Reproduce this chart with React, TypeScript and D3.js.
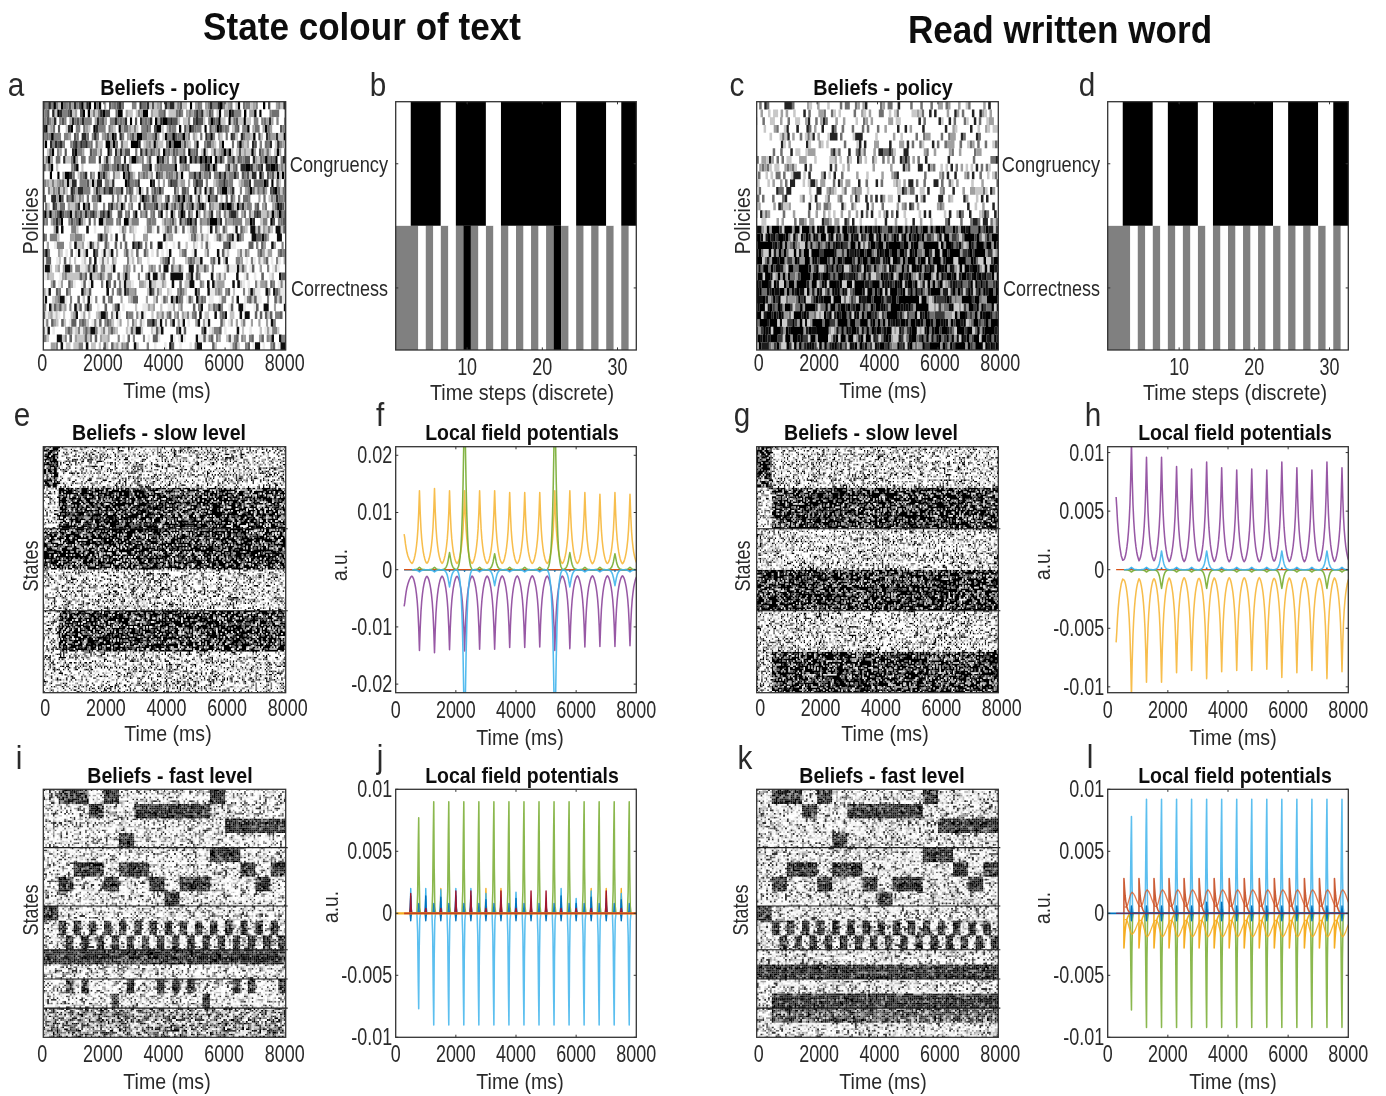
import React, { useMemo } from "react";
import * as d3 from "d3";

/* ---------- axes ---------- */
const MS_TICKS = [0, 2000, 4000, 6000, 8000];
const STEP_TICKS = [10, 20, 30];
const F_TICKS = [0.02, 0.01, 0, -0.01, -0.02];
const F_LABELS = ["0.02", "0.01", "0", "-0.01", "-0.02"];
const H_TICKS = [0.01, 0.005, 0, -0.005, -0.01];
const H_LABELS = ["0.01", "0.005", "0", "-0.005", "-0.01"];

/* ---------- panels b and d: state per discrete time step (w, k, g) ---------- */
const CONGRUENCY = "wwkkkkwwkkkkwwkkkkkkkkwwkkkkwwkk";
const CORRECTNESS_B = "gggwgwgwgkgwgwgwgwgwgkgwgwgwgwgw";
const CORRECTNESS_D = "gggwgwgwgwgwgwgwgwgwgwgwgwgwgwgw";

/* ---------- raster structure: [row, startMs, endMs] ---------- */
const SLOW_DARK_E = [[0, 0, 500], [1, 500, 8000], [2, 0, 8000], [4, 500, 8000]];
const SLOW_DARK_G = [[0, 0, 500], [1, 500, 8000], [3, 0, 8000], [5, 500, 8000]];
const SLOW_LINES = [2, 4];
const FAST_LINES = [4, 8, 11, 13, 15];
const FAST_COMMON = [
  [0, 500, 1500], [0, 2000, 2500], [0, 5500, 6000],
  [1, 1500, 2000], [1, 3000, 5500],
  [2, 6000, 8000],
  [3, 2500, 3000],
  [4, 5500, 6500],
  [5, 1000, 2000], [5, 2500, 3500], [5, 6500, 7000], [5, 7500, 8000],
  [6, 500, 1000], [6, 2000, 2500], [6, 3500, 4000], [6, 4500, 5500], [6, 7000, 7500],
  [7, 4000, 4500],
  [8, 0, 500],
];
const CHECK_ROW9 = [500, 1000, 1500, 2000, 2500, 3000, 3500, 4000, 4500, 5000, 5500, 6000, 6500, 7000, 7500];
const CHECK_ROW10 = [750, 1250, 1750, 2250, 2750, 3250, 3750, 4250, 4750, 5250, 5750, 6250, 6750, 7250, 7750];
const I_ROW13 = [750, 1250, 2750, 3750, 4250, 4750, 6250, 6750, 7750];
const I_ROW14 = [2250, 5250];
const FAST_DARK_I = [[11, 0, 8000]];
const FAST_DARK_K = [[12, 0, 8000], [14, 500, 8000]];
const FAST_MID_K = [[15, 500, 8000]];

/* The raster speckle cannot be read cell by cell at this resolution, so it is a
   hand-typed texture of digits, not values. Only the band
   structure above and the grey balance below follow the reference. */
const TEXTURE_A = [
  "73920485161739402857163094825716390482751",
  "28461930572846109375820461957302846197350",
  "95017362849150736284095173628491057362849",
  "41738205964173820596417382059641738205961",
  "60295817346029581734602958173460295817340",
  "38174629053817462905381746290538174629052",
  "82605193748260519374826051937482605193748",
  "17549326081754932608175493260817549326081",
  "59382061745938206174593820617459382061745",
  "04671852930467185293046718529304671852939",
  "26813794052681379405268137940526813794056",
];
const TEXTURE_B = [
  "9150426738195042673819504267381950427",
  "3728190465372819046537281904653728191",
  "6401975283640197528364019752836401974",
  "8263051794826305179482630517948263050",
  "1597382640159738264015973826401597386",
  "4036827915403682791540368279154036829",
  "7812549036781254903678125490367812543",
];

/* grey ramps, indexed by texture digit */
const RAMP_FAST_LIGHT = ["#303030", "#6a6a6a", "#a0a0a0", "#c4c4c4", "#dddddd", "#f0f0f0", "#ffffff", "#ffffff", "#ffffff", "#f5f5f5"];
const RAMP_FAST_DARK = ["#000000", "#000000", "#0a0a0a", "#141414", "#1e1e1e", "#262626", "#333333", "#4a4a4a", "#6a6a6a", "#999999"];
const RAMP_FAST_MID = ["#000000", "#1e1e1e", "#3c3c3c", "#606060", "#808080", "#a0a0a0", "#bcbcbc", "#d4d4d4", "#eeeeee", "#ffffff"];
const RAMP_FAST_KMID = ["#000000", "#141414", "#262626", "#383838", "#4a4a4a", "#5c5c5c", "#707070", "#8a8a8a", "#aaaaaa", "#d4d4d4"];
const RAMP_SLOW_LIGHT = ["#000000", "#2a2a2a", "#777777", "#b0b0b0", "#ffffff", "#ffffff", "#ffffff", "#ffffff", "#e0e0e0", "#ffffff"];
const RAMP_SLOW_DARK = ["#000000", "#000000", "#000000", "#000000", "#000000", "#000000", "#222222", "#666666", "#aaaaaa", "#f0f0f0"];
const RAMP_A_TOP = ["#000000", "#2a2a2a", "#555555", "#707070", "#808080", "#808080", "#a0a0a0", "#c4c4c4", "#ffffff", "#ffffff"];
const RAMP_A_BOTTOM = ["#111111", "#606060", "#808080", "#a0a0a0", "#c4c4c4", "#e8e8e8", "#ffffff", "#ffffff", "#ffffff", "#ffffff"];
const RAMP_C_TOP = ["#222222", "#707070", "#a0a0a0", "#c8c8c8", "#ffffff", "#ffffff", "#ffffff", "#ffffff", "#ffffff", "#ffffff"];
const RAMP_C_BOTTOM = ["#000000", "#000000", "#000000", "#000000", "#0a0a0a", "#1a1a1a", "#3a3a3a", "#707070", "#9a9a9a", "#cccccc"];
const ROW_SHIFTS = [0, 0.5, 0.25, 0.75, 0.1, 0.6, 0.35, 0.85];

/* ---------- local field potentials: peak times and amplitudes ---------- */
const PEAKS_790 = [790, 1290, 1790, 2290, 2790, 3290, 3790, 4290, 4790, 5290, 5790, 6290, 6790, 7290, 7790];
const PEAKS_765 = [765, 1265, 1765, 2265, 2765, 3265, 3765, 4265, 4765, 5265, 5765, 6265, 6765, 7265, 7765];
const PEAKS_500 = [500, 1000, 1500, 2000, 2500, 3000, 3500, 4000, 4500, 5000, 5500, 6000, 6500, 7000, 7500];
const PEAKS_540 = [540, 1040, 1540, 2040, 2540, 3040, 3540, 4040, 4540, 5040, 5540, 6040, 6540, 7040, 7540];
const PEAKS_810 = [810, 1310, 1820, 2330, 2820, 3330, 3820, 4320, 4820, 5320, 5820, 6310, 6810, 7310, 7810];

const BROAD_OFFS = [-250, -225, -200, -175, -150, -125, -100, -75, -50, -25, 0, 25, 50, 75, 100, 125, 150, 175, 200, 225];
const BROAD_SHAPE = [0.08, 0.09, 0.11, 0.14, 0.18, 0.23, 0.3, 0.39, 0.52, 0.72, 1, 0.72, 0.52, 0.39, 0.3, 0.23, 0.18, 0.14, 0.11, 0.09];
const NARROW_SHAPE = [0, 0.01, 0.02, 0.04, 0.07, 0.12, 0.2, 0.32, 0.5, 0.75, 1, 0.75, 0.5, 0.32, 0.2, 0.12, 0.07, 0.04, 0.02, 0.01];
const SPIKE_OFFS = [-60, -35, -15, 0, 15, 35, 60];
const SPIKE_SHAPE = [0, 0.2, 0.72, 1, 0.4, 0.06, 0];
const SMALL_OFFS = [-30, -15, 0, 15, 30];
const SMALL_SHAPE = [0, 0.3, 1, 0.3, 0];
const SAW_OFFS = [-1, 0, 20, 40, 60, 80, 100, 130, 160, 200];
const SAW_SHAPE = [0, 1, 0.72, 0.5, 0.35, 0.25, 0.17, 0.1, 0.05, 0];
const HUMP_OFFS = [-250, -200, -150, -100, -50, 0, 50, 100, 150, 200, 249];
const HUMP_SHAPE = [0.3, 0.3, 0.4, 0.65, 0.9, 1, 0.93, 0.8, 0.62, 0.45, 0.32];

const F_YELLOW_AMPS = [0.0138, 0.0142, 0.0138, 0.0138, 0.0138, 0.0138, 0.0135, 0.0135, 0.0135, 0.0138, 0.0138, 0.0135, 0.0132, 0.0135, 0.0132];
const F_PURPLE_AMPS = [-0.0141, -0.0145, -0.014, -0.0142, -0.0139, -0.0139, -0.0136, -0.0136, -0.0135, -0.0141, -0.0138, -0.0135, -0.0134, -0.0134, -0.0133];
const F_GREEN_AMPS = [0.0004, 0.0004, 0.003, 0.03, 0.0004, 0.0028, 0.0004, 0.0004, 0.0004, 0.03, 0.003, 0.0004, 0.0004, 0.0028, 0.0004];
const F_CYAN_AMPS = [-0.0004, -0.0004, -0.003, -0.03, -0.0004, -0.0028, -0.0004, -0.0004, -0.0004, -0.03, -0.003, -0.0004, -0.0004, -0.0028, -0.0004];
const F_HEAD = [[280, 0.0062], [300, 0.0056], [325, 0.0045], [350, 0.0037], [375, 0.003], [400, 0.0025], [450, 0.0018], [500, 0.0013]];
const F_HEAD_NEG = [[280, -0.0064], [300, -0.0058], [325, -0.0047], [350, -0.0038], [375, -0.0031], [400, -0.0026], [450, -0.0018], [500, -0.0013]];

const H_PURPLE_AMPS = [0.0108, 0.0096, 0.0096, 0.0088, 0.0086, 0.0092, 0.0087, 0.0085, 0.0086, 0.0085, 0.0092, 0.0087, 0.0085, 0.0092, 0.0087];
const H_YELLOW_AMPS = [-0.0108, -0.0096, -0.0096, -0.0088, -0.0086, -0.0093, -0.0087, -0.0086, -0.0086, -0.0085, -0.0092, -0.0088, -0.0086, -0.0093, -0.0087];
const H_CYAN_AMPS = [0.0002, 0.0002, 0.0016, 0.0002, 0.0002, 0.0016, 0.0002, 0.0002, 0.0002, 0.0002, 0.0016, 0.0002, 0.0002, 0.0016, 0.0002];
const H_GREEN_AMPS = [-0.0002, -0.0002, -0.0016, -0.0002, -0.0002, -0.0016, -0.0002, -0.0002, -0.0002, -0.0002, -0.0016, -0.0002, -0.0002, -0.0016, -0.0002];
const H_HEAD = [[280, 0.0062], [300, 0.0054], [325, 0.0042], [350, 0.0033], [375, 0.0026], [400, 0.002], [450, 0.0012], [500, 0.0008]];
const H_HEAD_NEG = [[280, -0.0062], [300, -0.0054], [325, -0.0042], [350, -0.0033], [375, -0.0026], [400, -0.002], [450, -0.0012], [500, -0.0008]];

const J_GREEN_AMPS = [0.0077, 0.009, 0.009, 0.009, 0.009, 0.009, 0.009, 0.009, 0.009, 0.009, 0.009, 0.009, 0.009, 0.009, 0.009];
const J_CYAN_AMPS = [-0.0077, -0.009, -0.009, -0.009, -0.009, -0.009, -0.009, -0.009, -0.009, -0.009, -0.009, -0.009, -0.009, -0.009, -0.009];
const J_SKY_AMPS = [0.002, 0.002, 0.0019, 0.002, 0.002, 0.0016, 0.0012, 0.0017, 0.0008, 0.0008, 0.002, 0.0012, 0.0018, 0.0012, 0.0016];
const J_BLUE_AMPS = [0.0014, 0.0014, 0.0013, 0.0014, 0.0014, 0.0011, 0.0008, 0.0012, 0.0006, 0.0006, 0.0014, 0.0008, 0.0013, 0.0008, 0.0011];
const J_YELLOW_AMPS = [0.0006, 0.0004, 0.002, 0.0004, 0.0006, 0.002, 0.002, 0.0006, 0.0006, 0.0006, 0.0004, 0.0006, 0.002, 0.002, 0.002];
const J_RED_AMPS = [0.0016, 0.0004, 0.0004, 0.0018, 0.0018, 0.0004, 0.0018, 0.0004, 0.0018, 0.0018, 0.0004, 0.0004, 0.0004, 0.0018, 0.0004];
const J_NEG_AMPS = [-0.0006, -0.0006, -0.0006, -0.0006, -0.0006, -0.0006, -0.0006, -0.0006, -0.0006, -0.0006, -0.0006, -0.0006, -0.0006, -0.0006, -0.0006];
const J_MINOR_AMPS = [0.0008, 0.0008, 0.0008, 0.0008, 0.0008, 0.0008, 0.0008, 0.0008, 0.0008, 0.0008, 0.0008, 0.0008, 0.0008, 0.0008, 0.0008];
const F_DOT_AMPS = [-0.0003, -0.0003, -0.0003, -0.0003, -0.0003, -0.0003, -0.0003, -0.0003, -0.0003, -0.0003, -0.0003, -0.0003, -0.0003, -0.0003, -0.0003];
const H_DOT_AMPS = [0.00016, 0.00016, 0.00016, 0.00016, 0.00016, 0.00016, 0.00016, 0.00016, 0.00016, 0.00016, 0.00016, 0.00016, 0.00016, 0.00016, 0.00016];

const L_CYAN_AMPS = [0.0078, 0.0092, 0.0092, 0.0092, 0.0092, 0.0092, 0.0092, 0.0092, 0.0092, 0.0092, 0.0092, 0.0092, 0.0092, 0.0092, 0.0092];
const L_GREEN_AMPS = [-0.0078, -0.0092, -0.0092, -0.0092, -0.0092, -0.0092, -0.0092, -0.0092, -0.0092, -0.0092, -0.0092, -0.0092, -0.0092, -0.0092, -0.0092];
const L_SAW_AMPS = [0.0028, 0.0028, 0.0028, 0.0028, 0.0028, 0.0028, 0.0028, 0.0028, 0.0028, 0.0028, 0.0028, 0.0028, 0.0028, 0.0028, 0.0028];
const L_SAW_NEG = [-0.0028, -0.0028, -0.0028, -0.0028, -0.0028, -0.0028, -0.0028, -0.0028, -0.0028, -0.0028, -0.0028, -0.0028, -0.0028, -0.0028, -0.0028];
const L_HUMP_AMPS = [0.0017, 0.0019, 0.0019, 0.0019, 0.0019, 0.0019, 0.0019, 0.0019, 0.0019, 0.0019, 0.0019, 0.0019, 0.0019, 0.0019, 0.0019];
const L_HUMP_NEG = [-0.0017, -0.0019, -0.0019, -0.0019, -0.0019, -0.0019, -0.0019, -0.0019, -0.0019, -0.0019, -0.0019, -0.0019, -0.0019, -0.0019, -0.0019];
const L_DARK_AMPS = [0.0006, 0.0006, 0.0006, 0.0006, 0.0006, 0.0009, 0.0009, 0.0006, 0.0006, 0.0006, 0.0006, 0.0006, 0.0006, 0.0006, 0.0006];

const ZERO_FROM_280 = [[280, 0], [8000, 0]];
const ZERO_FROM_0 = [[0, 0], [8000, 0]];

const BLUE = "#0072BD", ORANGE = "#D95319", YELLOW = "#F5AE22", PURPLE = "#7E2F8E", GREEN = "#77AC30", CYAN = "#3FB4EC", RED = "#A2142F";
const MAJOR = 1.55;

function pulses(peaks, amps, offs, shape) {
  return peaks.flatMap((p, i) => offs.map((o, j) => [p + o, amps[i] * shape[j]]));
}

const F_SERIES = [
  { c: BLUE, w: 1.6, o: 1, pts: ZERO_FROM_280 },
  { c: BLUE, w: 1.2, o: 0.9, pts: pulses(PEAKS_790, F_DOT_AMPS, SMALL_OFFS, SMALL_SHAPE) },
  { c: ORANGE, w: 1.3, o: 1, pts: ZERO_FROM_280 },
  { c: YELLOW, w: MAJOR, o: 0.8, pts: [...F_HEAD, ...pulses(PEAKS_790, F_YELLOW_AMPS, BROAD_OFFS, BROAD_SHAPE)] },
  { c: PURPLE, w: MAJOR, o: 0.8, pts: [...F_HEAD_NEG, ...pulses(PEAKS_790, F_PURPLE_AMPS, BROAD_OFFS, BROAD_SHAPE)] },
  { c: GREEN, w: MAJOR, o: 0.9, pts: pulses(PEAKS_790, F_GREEN_AMPS, BROAD_OFFS, NARROW_SHAPE) },
  { c: CYAN, w: MAJOR, o: 0.9, pts: pulses(PEAKS_790, F_CYAN_AMPS, BROAD_OFFS, NARROW_SHAPE) },
];
const H_SERIES = [
  { c: BLUE, w: 1.3, o: 0.9, pts: pulses(PEAKS_790, H_DOT_AMPS, SMALL_OFFS, SMALL_SHAPE) },
  { c: ORANGE, w: 1.3, o: 1, pts: ZERO_FROM_280 },
  { c: YELLOW, w: MAJOR, o: 0.8, pts: [...H_HEAD_NEG, ...pulses(PEAKS_790, H_YELLOW_AMPS, BROAD_OFFS, BROAD_SHAPE)] },
  { c: PURPLE, w: MAJOR, o: 0.8, pts: [...H_HEAD, ...pulses(PEAKS_790, H_PURPLE_AMPS, BROAD_OFFS, BROAD_SHAPE)] },
  { c: GREEN, w: MAJOR, o: 0.9, pts: pulses(PEAKS_790, H_GREEN_AMPS, BROAD_OFFS, NARROW_SHAPE) },
  { c: CYAN, w: MAJOR, o: 0.9, pts: pulses(PEAKS_790, H_CYAN_AMPS, BROAD_OFFS, NARROW_SHAPE) },
];
const J_SERIES = [
  { c: GREEN, w: MAJOR, o: 0.85, pts: pulses(PEAKS_765, J_GREEN_AMPS, SPIKE_OFFS, SPIKE_SHAPE) },
  { c: CYAN, w: MAJOR, o: 0.85, pts: pulses(PEAKS_765, J_CYAN_AMPS, SPIKE_OFFS, SPIKE_SHAPE) },
  { c: YELLOW, w: 1.4, o: 1, pts: pulses(PEAKS_500, J_YELLOW_AMPS, SMALL_OFFS, SMALL_SHAPE) },
  { c: CYAN, w: 1.4, o: 1, pts: pulses(PEAKS_500, J_SKY_AMPS, SMALL_OFFS, SMALL_SHAPE) },
  { c: BLUE, w: 1.4, o: 1, pts: pulses(PEAKS_500, J_NEG_AMPS, SMALL_OFFS, SMALL_SHAPE) },
  { c: BLUE, w: 1.4, o: 1, pts: pulses(PEAKS_500, J_BLUE_AMPS, SMALL_OFFS, SMALL_SHAPE) },
  { c: RED, w: 1.4, o: 1, pts: pulses(PEAKS_500, J_RED_AMPS, SMALL_OFFS, SMALL_SHAPE) },
  { c: BLUE, w: 1.2, o: 0.9, pts: pulses(PEAKS_765, J_MINOR_AMPS, SMALL_OFFS, SMALL_SHAPE) },
  { c: YELLOW, w: 2.2, o: 1, pts: ZERO_FROM_0 },
  { c: "#C8401F", w: 1.8, o: 1, pts: ZERO_FROM_280 },
];
const L_SERIES = [
  { c: CYAN, w: MAJOR, o: 0.85, pts: pulses(PEAKS_790, L_CYAN_AMPS, SPIKE_OFFS, SPIKE_SHAPE) },
  { c: GREEN, w: MAJOR, o: 0.85, pts: pulses(PEAKS_790, L_GREEN_AMPS, SPIKE_OFFS, SPIKE_SHAPE) },
  { c: YELLOW, w: 1.3, o: 0.9, pts: pulses(PEAKS_810, L_HUMP_NEG, HUMP_OFFS, HUMP_SHAPE) },
  { c: YELLOW, w: 1.6, o: 1, pts: pulses(PEAKS_540, L_SAW_NEG, SAW_OFFS, SAW_SHAPE) },
  { c: ORANGE, w: 1.3, o: 0.75, pts: pulses(PEAKS_810, L_HUMP_AMPS, HUMP_OFFS, HUMP_SHAPE) },
  { c: "#C8532A", w: 1.6, o: 0.95, pts: pulses(PEAKS_540, L_SAW_AMPS, SAW_OFFS, SAW_SHAPE) },
  { c: BLUE, w: 1.4, o: 1, pts: pulses(PEAKS_790, L_DARK_AMPS, SMALL_OFFS, SMALL_SHAPE) },
  { c: BLUE, w: 1.4, o: 1, pts: pulses(PEAKS_790, J_NEG_AMPS, SMALL_OFFS, SMALL_SHAPE) },
  { c: BLUE, w: 1.8, o: 1, pts: ZERO_FROM_0 },
  { c: RED, w: 1.1, o: 0.9, pts: ZERO_FROM_280 },
];

/* ---------- panel boxes ---------- */
const COL_L = [43.3, 395.7, 756.7, 1107.7];
const COL_W = [242.4, 240.6, 241.6, 240.6];
const ROW_T = [101.7, 446.7, 789.3];
const ROW_B = [350, 692.7, 1037.3];

const INK = "#333333";

/* ---------- helpers ---------- */
function T({ x, y, s, size = 22.5, anchor = "middle", weight = "normal", sx = 0.87, rot = 0, fill = "#2a2a2a" }) {
  return (
    <text
      transform={`translate(${x},${y}) rotate(${rot}) scale(${sx},1)`}
      fontFamily="'Liberation Sans', Arial, sans-serif"
      fontSize={size}
      fontWeight={weight}
      textAnchor={anchor}
      fill={fill}
    >
      {s}
    </text>
  );
}

function digit(r, c, off) {
  const rowA = r % TEXTURE_A.length;
  const rowB = (r * 3 + off) % TEXTURE_B.length;
  const a = TEXTURE_A[rowA];
  const b = TEXTURE_B[rowB];
  const jump = +b[(r + off) % b.length] * 11 + +a[(r * 2) % a.length] * 17;
  return (+a[(c + jump + r * r) % a.length] + +b[(c * 2 + jump + r * off) % b.length]) % 10;
}

function inSegs(segs, row, t) {
  return segs.some((s) => s[0] === row && t >= s[1] && t < s[2]);
}

function rasterPaths({ box, rows, cols, stateRows, off, rampFor, brick }) {
  const x = d3.scaleLinear().domain([0, cols]).range([box.x0, box.x1]);
  const y = d3.scaleLinear().domain([0, rows]).range([box.y0, box.y1]);
  const t = d3.scaleLinear().domain([0, cols]).range([0, 8000]);
  const byColour = new Map();
  const add = (colour, seg) => {
    if (!byColour.has(colour)) byColour.set(colour, []);
    byColour.get(colour).push(seg);
  };
  for (let r = 0; r < rows; r++) {
    const state = Math.floor(((r + 0.5) / rows) * stateRows);
    const shift = brick ? ROW_SHIFTS[r % ROW_SHIFTS.length] - 1 : 0;
    let runStart = -1;
    let colour = "";
    const flush = (end) => {
      if (runStart === -1) return;
      const x0 = Math.max(box.x0, x(runStart + shift));
      const x1 = Math.min(box.x1, x(end + shift));
      if (x1 <= x0) return;
      add(colour, `M${x0.toFixed(1)} ${y(r).toFixed(1)}H${x1.toFixed(1)}V${y(r + 1).toFixed(1)}H${x0.toFixed(1)}Z`);
    };
    const last = brick ? cols + 2 : cols;
    for (let c = 0; c < last; c++) {
      const ramp = rampFor(state, t(Math.min(c, cols - 1) + 0.5));
      const col = ramp[digit(r, c, off)];
      if (col !== colour) {
        flush(c);
        runStart = c;
        colour = col;
      }
    }
    flush(last);
  }
  return [...byColour.entries()].map(([c, segs]) => ({ c, d: segs.join("") }));
}

function Raster({ box, rows, cols, stateRows, off, rampFor, lines, brick }) {
  const paths = useMemo(() => rasterPaths({ box, rows, cols, stateRows, off, rampFor, brick }), []);
  const band = d3.scaleLinear().domain([0, stateRows]).range([box.y0, box.y1]);
  return (
    <g>
      <rect x={box.x0} y={box.y0} width={box.x1 - box.x0} height={box.y1 - box.y0} fill="#fff" />
      {paths.map((p) => (
        <path key={p.c} d={p.d} fill={p.c} />
      ))}
      {(lines || []).map((l) => (
        <line key={l} x1={box.x0} x2={box.x1 + 2} y1={band(l)} y2={band(l)} stroke="#1a1a1a" strokeWidth={1.1} />
      ))}
    </g>
  );
}

function Frame({ box, xs, ys }) {
  const tick = 2.6;
  return (
    <g stroke={INK} strokeWidth={1} fill="none">
      {xs.map((v) => (
        <g key={`x${v}`}>
          <line x1={v} x2={v} y1={box.y1} y2={box.y1 - tick} />
          <line x1={v} x2={v} y1={box.y0} y2={box.y0 + tick} />
        </g>
      ))}
      {ys.map((v) => (
        <g key={`y${v}`}>
          <line x1={box.x0} x2={box.x0 + tick} y1={v} y2={v} />
          <line x1={box.x1} x2={box.x1 - tick} y1={v} y2={v} />
        </g>
      ))}
      <rect x={box.x0} y={box.y0} width={box.x1 - box.x0} height={box.y1 - box.y0} strokeWidth={1.3} />
    </g>
  );
}

function boxOf(col, row) {
  return { x0: COL_L[col], x1: COL_L[col] + COL_W[col], y0: ROW_T[row], y1: ROW_B[row] };
}

function msScale(box) {
  return d3.scaleLinear().domain([0, 8000]).range([box.x0, box.x1]);
}

function MsLabels({ box, base, dx = 0, titleX, titleY }) {
  const x = msScale(box);
  return (
    <g>
      {MS_TICKS.map((v) => (
        <T key={v} x={x(v) + dx} y={base} s={String(v)} size={23} sx={0.78} />
      ))}
      <T x={titleX} y={titleY} s="Time (ms)" sx={0.87} />
    </g>
  );
}

function runsOf(states) {
  const runs = [];
  states.split("").forEach((s, i) => {
    const lastRun = runs[runs.length - 1];
    if (lastRun && lastRun.s === s) lastRun.end = i + 1;
    else runs.push({ s, start: i, end: i + 1 });
  });
  return runs;
}

function StatePanel({ box, congruency, correctness, labelX, ticksBase, titleX }) {
  const x = d3.scaleLinear().domain([0.5, 32.5]).range([box.x0, box.x1]);
  const y = d3.scaleBand().domain(["Congruency", "Correctness"]).range([box.y0, box.y1]);
  const fills = { w: "#ffffff", k: "#000000", g: "#808080" };
  const rows = [
    ["Congruency", congruency],
    ["Correctness", correctness],
  ];
  return (
    <g>
      {rows.map(([name, states]) =>
        runsOf(states).map((run) => (
          <rect key={`${name}${run.start}`} x={x(run.start + 0.5)} width={x(run.end + 0.5) - x(run.start + 0.5)} y={y(name)} height={y.bandwidth()} fill={fills[run.s]} />
        ))
      )}
      <Frame box={box} xs={STEP_TICKS.map((v) => x(v))} ys={[y("Congruency") + y.bandwidth() / 2, y("Correctness") + y.bandwidth() / 2]} />
      <T x={labelX} y={172} s="Congruency" anchor="end" sx={0.81} />
      <T x={labelX} y={296} s="Correctness" anchor="end" sx={0.8} />
      {STEP_TICKS.map((v) => (
        <T key={v} x={x(v)} y={ticksBase} s={String(v)} size={23} sx={0.78} />
      ))}
      <T x={titleX} y={400} s="Time steps (discrete)" sx={0.88} />
    </g>
  );
}

function LfpPanel({ id, box, limit, ticks, labels, series }) {
  const x = msScale(box);
  const y = d3.scaleLinear().domain([-limit, limit]).range([box.y1, box.y0]);
  const line = d3.line().x((d) => x(d[0])).y((d) => y(d[1]));
  return (
    <g>
      <rect x={box.x0} y={box.y0} width={box.x1 - box.x0} height={box.y1 - box.y0} fill="#fff" />
      <clipPath id={id}>
        <rect x={box.x0} y={box.y0} width={box.x1 - box.x0} height={box.y1 - box.y0} />
      </clipPath>
      <g clipPath={`url(#${id})`} fill="none" strokeLinejoin="round">
        {series.map((s, i) => (
          <path key={i} d={line(s.pts)} stroke={s.c} strokeWidth={s.w} strokeOpacity={s.o} />
        ))}
      </g>
      <Frame box={box} xs={MS_TICKS.slice(1, 4).map((v) => x(v))} ys={ticks.map((v) => y(v))} />
      {ticks.map((v, i) => (
        <T key={v} x={box.x0 - 3.5} y={y(v) + 8} s={labels[i]} anchor="end" size={23} sx={0.78} />
      ))}
    </g>
  );
}

const A_BOX = boxOf(0, 0);
const C_BOX = boxOf(2, 0);
const E_BOX = boxOf(0, 1);
const G_BOX = boxOf(2, 1);
const I_BOX = boxOf(0, 2);
const K_BOX = boxOf(2, 2);

function fastCommonDark(state, t) {
  if (inSegs(FAST_COMMON, state, t)) return true;
  if (state === 9) return CHECK_ROW9.some((s) => t >= s && t < s + 250);
  if (state === 10) return CHECK_ROW10.some((s) => t >= s && t < s + 250);
  return false;
}
function rampI(state, t) {
  if (state >= 15) return RAMP_FAST_MID;
  if (fastCommonDark(state, t) || inSegs(FAST_DARK_I, state, t)) return RAMP_FAST_DARK;
  if (state === 13 && I_ROW13.some((s) => t >= s && t < s + 250)) return RAMP_FAST_DARK;
  if (state === 14 && I_ROW14.some((s) => t >= s && t < s + 250)) return RAMP_FAST_DARK;
  return RAMP_FAST_LIGHT;
}
function rampK(state, t) {
  if (fastCommonDark(state, t) || inSegs(FAST_DARK_K, state, t)) return RAMP_FAST_DARK;
  if (inSegs(FAST_MID_K, state, t)) return RAMP_FAST_KMID;
  return RAMP_FAST_LIGHT;
}
const rampE = (s, t) => (inSegs(SLOW_DARK_E, s, t) ? RAMP_SLOW_DARK : RAMP_SLOW_LIGHT);
const rampG = (s, t) => (inSegs(SLOW_DARK_G, s, t) ? RAMP_SLOW_DARK : RAMP_SLOW_LIGHT);
const rampA = (s) => (s === 0 ? RAMP_A_TOP : RAMP_A_BOTTOM);
const rampC = (s) => (s === 0 ? RAMP_C_TOP : RAMP_C_BOTTOM);

export default function App() {
  return (
    <svg width={1386} height={1096} viewBox="0 0 1386 1096" style={{ position: "absolute", left: 0, top: 0, background: "#fff" }}>
      <defs>
        <filter id="soft" filterUnits="userSpaceOnUse" x="0" y="0" width="1386" height="1096">
          <feGaussianBlur stdDeviation="0.5" />
        </filter>
      </defs>
      <g filter="url(#soft)">
        <T x={362} y={40} s="State colour of text" size={39} weight="bold" sx={0.9} fill="#111" />
        <T x={1060} y={43} s="Read written word" size={39} weight="bold" sx={0.9} fill="#111" />

        {/* panel letters */}
        <T x={16} y={96} s="a" size={33} sx={0.9} />
        <T x={378} y={96} s="b" size={33} sx={0.9} />
        <T x={737} y={96} s="c" size={33} sx={0.9} />
        <T x={1087} y={96} s="d" size={33} sx={0.9} />
        <T x={22} y={426} s="e" size={33} sx={0.9} />
        <T x={380} y={426} s="f" size={33} sx={0.9} />
        <T x={742} y={426} s="g" size={33} sx={0.9} />
        <T x={1093} y={426} s="h" size={33} sx={0.9} />
        <T x={19} y={769} s="i" size={33} sx={0.9} />
        <T x={380} y={768} s="j" size={33} sx={0.9} />
        <T x={745} y={769} s="k" size={33} sx={0.9} />
        <T x={1090} y={768} s="l" size={33} sx={0.9} />

        {/* panel titles */}
        <T x={170} y={95} s="Beliefs - policy" size={22} weight="bold" sx={0.9} fill="#111" />
        <T x={883} y={95} s="Beliefs - policy" size={22} weight="bold" sx={0.9} fill="#111" />
        <T x={159} y={440} s="Beliefs - slow level" size={22} weight="bold" sx={0.89} fill="#111" />
        <T x={871} y={440} s="Beliefs - slow level" size={22} weight="bold" sx={0.89} fill="#111" />
        <T x={522} y={440} s="Local field potentials" size={22} weight="bold" sx={0.885} fill="#111" />
        <T x={1235} y={440} s="Local field potentials" size={22} weight="bold" sx={0.885} fill="#111" />
        <T x={170} y={783} s="Beliefs - fast level" size={22} weight="bold" sx={0.89} fill="#111" />
        <T x={882} y={783} s="Beliefs - fast level" size={22} weight="bold" sx={0.89} fill="#111" />
        <T x={522} y={783} s="Local field potentials" size={22} weight="bold" sx={0.885} fill="#111" />
        <T x={1235} y={783} s="Local field potentials" size={22} weight="bold" sx={0.885} fill="#111" />

        {/* y labels */}
        <T x={38} y={221} s="Policies" rot={-90} sx={0.86} />
        <T x={750} y={221} s="Policies" rot={-90} sx={0.86} />
        <T x={38} y={566} s="States" rot={-90} sx={0.8} />
        <T x={750} y={566} s="States" rot={-90} sx={0.8} />
        <T x={38} y={910} s="States" rot={-90} sx={0.8} />
        <T x={748} y={910} s="States" rot={-90} sx={0.8} />
        <T x={347} y={565} s="a.u." rot={-90} sx={0.85} />
        <T x={1050} y={564} s="a.u." rot={-90} sx={0.85} />
        <T x={338} y={907} s="a.u." rot={-90} sx={0.85} />
        <T x={1050} y={908} s="a.u." rot={-90} sx={0.85} />

        {/* row 1 */}
        <Raster box={A_BOX} rows={32} cols={96} stateRows={2} off={3} rampFor={rampA} brick />
        <Frame box={A_BOX} xs={MS_TICKS.slice(1, 4).map((v) => msScale(A_BOX)(v))} ys={[]} />
        <MsLabels box={A_BOX} base={371} dx={-1} titleX={167} titleY={398} />

        <StatePanel box={boxOf(1, 0)} congruency={CONGRUENCY} correctness={CORRECTNESS_B} labelX={388} ticksBase={375} titleX={522} />

        <Raster box={C_BOX} rows={32} cols={96} stateRows={2} off={8} rampFor={rampC} brick />
        <Frame box={C_BOX} xs={MS_TICKS.slice(1, 4).map((v) => msScale(C_BOX)(v))} ys={[]} />
        <MsLabels box={C_BOX} base={371} dx={2} titleX={883} titleY={398} />

        <StatePanel box={boxOf(3, 0)} congruency={CONGRUENCY} correctness={CORRECTNESS_D} labelX={1100} ticksBase={375} titleX={1235} />

        {/* row 2 */}
        <Raster box={E_BOX} rows={144} cols={160} stateRows={6} off={1} rampFor={rampE} lines={SLOW_LINES} />
        <Frame box={E_BOX} xs={MS_TICKS.slice(1, 4).map((v) => msScale(E_BOX)(v))} ys={[]} />
        <MsLabels box={E_BOX} base={716} dx={2} titleX={168} titleY={741} />

        <LfpPanel id="clipF" box={boxOf(1, 1)} limit={0.0215} ticks={F_TICKS} labels={F_LABELS} series={F_SERIES} />
        <MsLabels box={boxOf(1, 1)} base={718} titleX={520} titleY={745} />

        <Raster box={G_BOX} rows={144} cols={160} stateRows={6} off={5} rampFor={rampG} lines={SLOW_LINES} />
        <Frame box={G_BOX} xs={MS_TICKS.slice(1, 4).map((v) => msScale(G_BOX)(v))} ys={[]} />
        <MsLabels box={G_BOX} base={716} dx={3.5} titleX={885} titleY={741} />

        <LfpPanel id="clipH" box={boxOf(3, 1)} limit={0.0105} ticks={H_TICKS} labels={H_LABELS} series={H_SERIES} />
        <MsLabels box={boxOf(3, 1)} base={718} titleX={1233} titleY={745} />

        {/* row 3 */}
        <Raster box={I_BOX} rows={136} cols={128} stateRows={17} off={2} rampFor={rampI} lines={FAST_LINES} />
        <Frame box={I_BOX} xs={MS_TICKS.slice(1, 4).map((v) => msScale(I_BOX)(v))} ys={[]} />
        <MsLabels box={I_BOX} base={1062} dx={-1} titleX={167} titleY={1089} />

        <LfpPanel id="clipJ" box={boxOf(1, 2)} limit={0.01} ticks={H_TICKS} labels={H_LABELS} series={J_SERIES} />
        <MsLabels box={boxOf(1, 2)} base={1062} titleX={520} titleY={1089} />

        <Raster box={K_BOX} rows={136} cols={128} stateRows={17} off={6} rampFor={rampK} lines={FAST_LINES} />
        <Frame box={K_BOX} xs={MS_TICKS.slice(1, 4).map((v) => msScale(K_BOX)(v))} ys={[]} />
        <MsLabels box={K_BOX} base={1062} dx={2} titleX={883} titleY={1089} />

        <LfpPanel id="clipL" box={boxOf(3, 2)} limit={0.01} ticks={H_TICKS} labels={H_LABELS} series={L_SERIES} />
        <MsLabels box={boxOf(3, 2)} base={1062} titleX={1233} titleY={1089} />
      </g>
    </svg>
  );
}
